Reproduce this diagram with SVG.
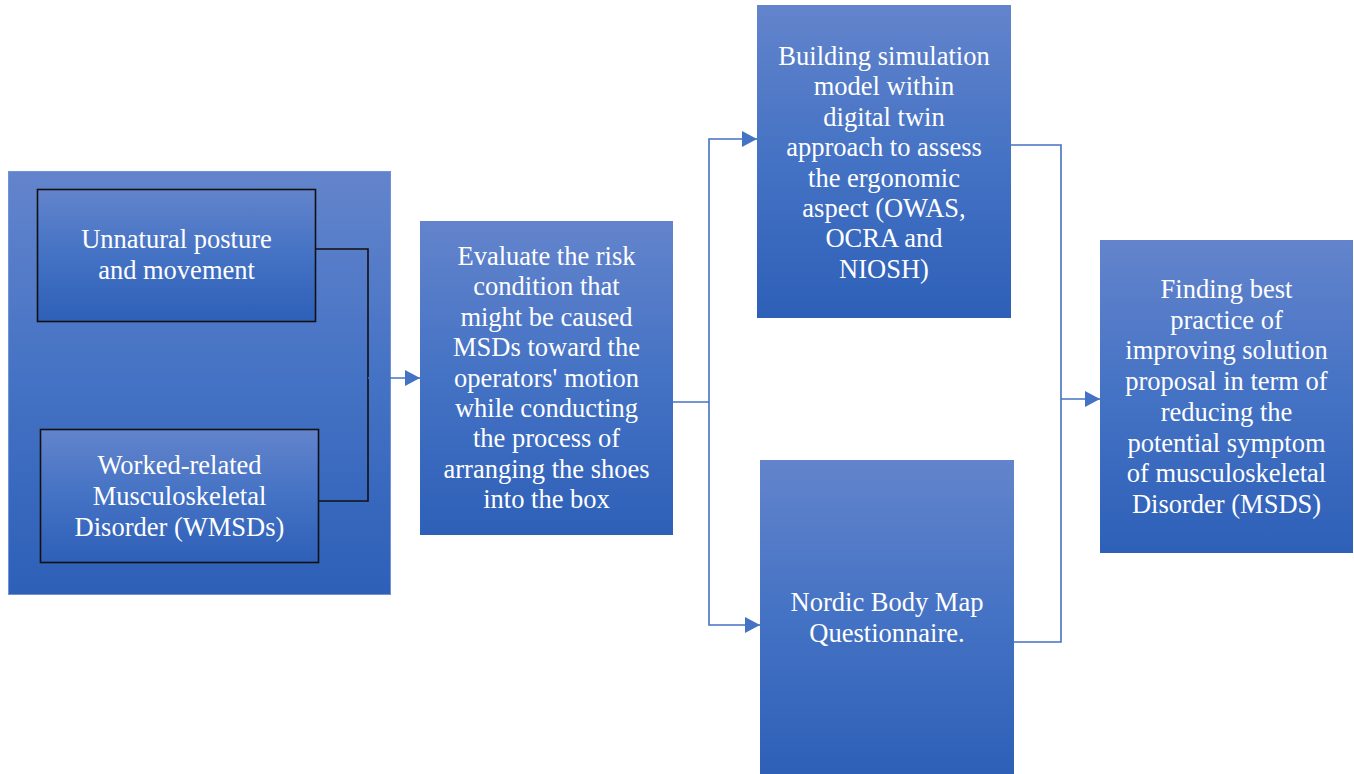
<svg xmlns="http://www.w3.org/2000/svg" width="1354" height="774" viewBox="0 0 1354 774">
<style>
.box{fill:url(#g);}
.outer{fill:url(#g);stroke:#6F92D8;stroke-width:1;}
.inner{fill:url(#g);stroke:#111111;stroke-width:1.6;}
.t{font-family:"Liberation Serif","Times New Roman",serif;font-size:26.5px;fill:#FFFFFF;text-anchor:middle;}
.c{fill:none;stroke:#4472C4;stroke-width:1.6;}
.k{fill:none;stroke:#111111;stroke-width:1.6;}
</style>
<defs>
<linearGradient id="g" x1="0" y1="0" x2="0" y2="1">
<stop offset="0" stop-color="#6384CC"/>
<stop offset="0.5" stop-color="#4472C4"/>
<stop offset="1" stop-color="#2E60B8"/>
</linearGradient>
<marker id="a" markerWidth="16" markerHeight="16" refX="15" refY="8" orient="auto" markerUnits="userSpaceOnUse">
<path d="M0,0 L15,8 L0,16 Z" fill="#4472C4"/>
</marker>
</defs>
<rect width="1354" height="774" fill="#FFFFFF"/>
<g id="group-left">
<rect class="outer" x="8.5" y="171.5" width="382" height="423"/>
</g>
<g id="node-unnatural">
<rect class="inner" x="37.5" y="189.5" width="278" height="132"/>
<text class="t" x="176.5" y="248">Unnatural posture</text>
<text class="t" x="176.5" y="279">and movement</text>
</g>
<g id="node-wmsds">
<rect class="inner" x="40.5" y="429.5" width="278" height="133"/>
<text class="t" x="179.5" y="474">Worked-related</text>
<text class="t" x="179.5" y="505">Musculoskeletal</text>
<text class="t" x="179.5" y="536">Disorder (WMSDs)</text>
</g>
<g id="node-evaluate">
<rect class="box" x="420" y="221" width="253" height="314"/>
<text class="t" x="546.5" y="265">Evaluate the risk</text>
<text class="t" x="546.5" y="295.4">condition that</text>
<text class="t" x="546.5" y="325.8">might be caused</text>
<text class="t" x="546.5" y="356.2">MSDs toward the</text>
<text class="t" x="546.5" y="386.6">operators' motion</text>
<text class="t" x="546.5" y="417">while conducting</text>
<text class="t" x="546.5" y="447.4">the process of</text>
<text class="t" x="546.5" y="477.8">arranging the shoes</text>
<text class="t" x="546.5" y="508.2">into the box</text>
</g>
<g id="node-simulation">
<rect class="box" x="757" y="5" width="254" height="313"/>
<text class="t" x="884" y="65">Building simulation</text>
<text class="t" x="884" y="95.4">model within</text>
<text class="t" x="884" y="125.8">digital twin</text>
<text class="t" x="884" y="156.2">approach to assess</text>
<text class="t" x="884" y="186.6">the ergonomic</text>
<text class="t" x="884" y="217">aspect (OWAS,</text>
<text class="t" x="884" y="247.4">OCRA and</text>
<text class="t" x="884" y="277.8">NIOSH)</text>
</g>
<g id="node-nordic">
<rect class="box" x="760" y="460" width="254" height="314"/>
<text class="t" x="887" y="611">Nordic Body Map</text>
<text class="t" x="887" y="642">Questionnaire.</text>
</g>
<g id="node-finding">
<rect class="box" x="1100" y="240" width="253" height="313"/>
<text class="t" x="1226.5" y="298">Finding best</text>
<text class="t" x="1226.5" y="328.7">practice of</text>
<text class="t" x="1226.5" y="359.4">improving solution</text>
<text class="t" x="1226.5" y="390.1">proposal in term of</text>
<text class="t" x="1226.5" y="420.8">reducing the</text>
<text class="t" x="1226.5" y="451.5">potential symptom</text>
<text class="t" x="1226.5" y="482.2">of musculoskeletal</text>
<text class="t" x="1226.5" y="512.9">Disorder (MSDS)</text>
</g>
<g id="connectors">
<path class="k" d="M316,249 H368 V501 H319"/>
<path class="c" d="M368,378 H420" marker-end="url(#a)"/>
<path class="c" d="M673,402 H709"/>
<path class="c" d="M709,402 V139 H757" marker-end="url(#a)"/>
<path class="c" d="M709,402 V625 H760" marker-end="url(#a)"/>
<path class="c" d="M1011,145 H1061 V642 H1014"/>
<path class="c" d="M1061,399 H1100" marker-end="url(#a)"/>
</g>
</svg>
